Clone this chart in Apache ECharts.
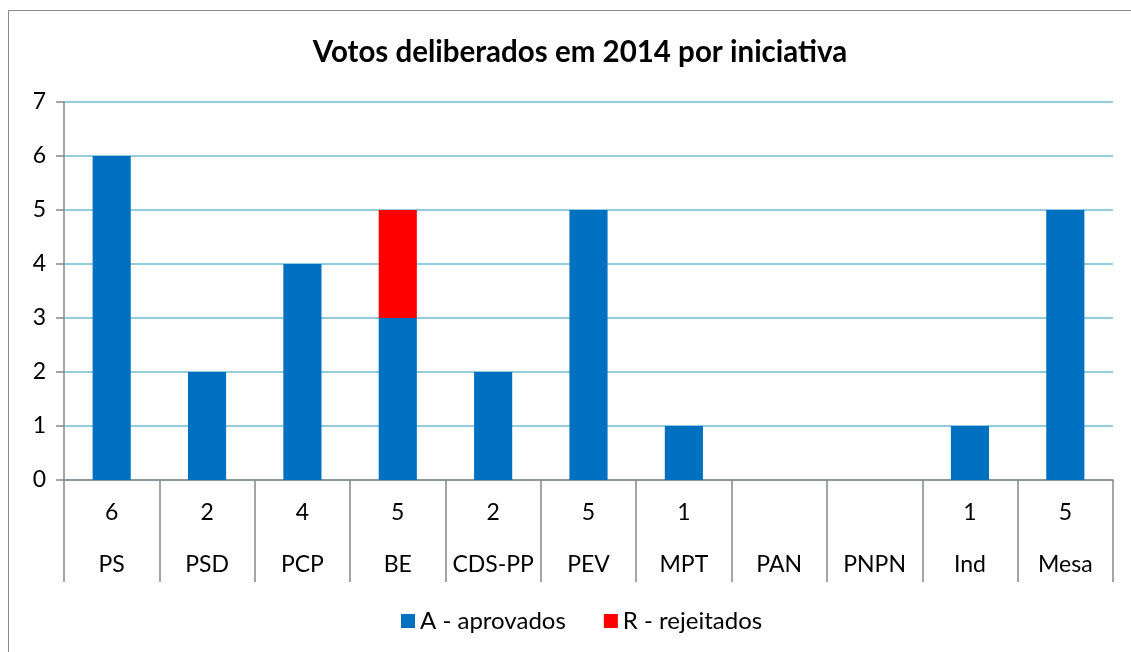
<!DOCTYPE html>
<html>
<head>
<meta charset="utf-8">
<script src="https://cdn.jsdelivr.net/npm/echarts@6/dist/echarts.min.js"></script>
<style>
  html, body { margin: 0; padding: 0; background: #fff; overflow: hidden; }
  #frame { position: absolute; left: 8px; top: 10px; width: 1200px; height: 700px; border: 1.5px solid #8a8a8a; box-sizing: border-box; }
  #chart { position: absolute; left: 0; top: 0; width: 1131px; height: 652px; }
</style>
</head>
<body>
<div id="frame"></div>
<div id="chart"></div>
<script>
const categories = ["PS", "PSD", "PCP", "BE", "CDS-PP", "PEV", "MPT", "PAN", "PNPN", "Ind", "Mesa"];
const aprovados = [6, 2, 4, 3, 2, 5, 1, 0, 0, 1, 5];
const rejeitados = [0, 0, 0, 2, 0, 0, 0, 0, 0, 0, 0];
const totalLabels = ["6", "2", "4", "5", "2", "5", "1", "", "", "1", "5"];
const yTicks = [0, 1, 2, 3, 4, 5, 6, 7];

const FONT = "Lato, 'Open Sans', sans-serif";
const chart = echarts.init(document.getElementById('chart'), null, { renderer: 'canvas' });

chart.setOption({
  animation: false,
  backgroundColor: 'transparent',
  title: {
    text: 'Votos deliberados em 2014 por iniciativa',
    left: 575, top: 32, textAlign: 'center',
    textStyle: { fontFamily: FONT, fontWeight: 'bold', fontSize: 29.5, color: '#000' }
  },
  legend: {
    data: ['A - aprovados', 'R - rejeitados'],
    left: 396, top: 604,
    itemWidth: 14, itemHeight: 14, itemGap: 38,
    icon: 'rect',
    textStyle: { fontFamily: FONT, fontSize: 24, color: '#000' }
  },
  grid: { left: 64, right: 18, top: 102, bottom: 172, containLabel: false },
  xAxis: {
    type: 'category',
    data: categories,
    axisLine: { show: true, lineStyle: { color: '#878787', width: 1.5 } },
    axisTick: { show: true, length: 102, lineStyle: { color: '#878787', width: 1.5 } },
    axisLabel: {
      interval: 0, margin: 7,
      formatter: function (value, idx) {
        return '{v|' + (totalLabels[idx] || ' ') + '}\n{c|' + value + '}';
      },
      rich: {
        v: { fontFamily: FONT, fontSize: 23, color: '#000', lineHeight: 52, height: 52 },
        c: { fontFamily: FONT, fontSize: 23, color: '#000', lineHeight: 52, height: 52 }
      }
    }
  },
  yAxis: {
    type: 'value', min: 0, max: 7, interval: 1,
    axisLine: { show: true, lineStyle: { color: '#878787', width: 1.5 } },
    axisTick: { show: true, length: 8, lineStyle: { color: '#878787', width: 1.5 } },
    axisLabel: {
      margin: 18, fontFamily: FONT, fontSize: 23, color: '#000',
      formatter: function (v) { return yTicks.indexOf(v) >= 0 ? String(v) : ''; }
    },
    splitLine: { show: true, lineStyle: { color: '#93CDDD', width: 2 } }
  },
  series: [
    { name: 'A - aprovados', type: 'bar', stack: 'total', data: aprovados, barWidth: '40%', itemStyle: { color: '#0070C0' } },
    { name: 'R - rejeitados', type: 'bar', stack: 'total', data: rejeitados, barWidth: '40%', itemStyle: { color: '#FF0000' } }
  ]
});
</script>
</body>
</html>
